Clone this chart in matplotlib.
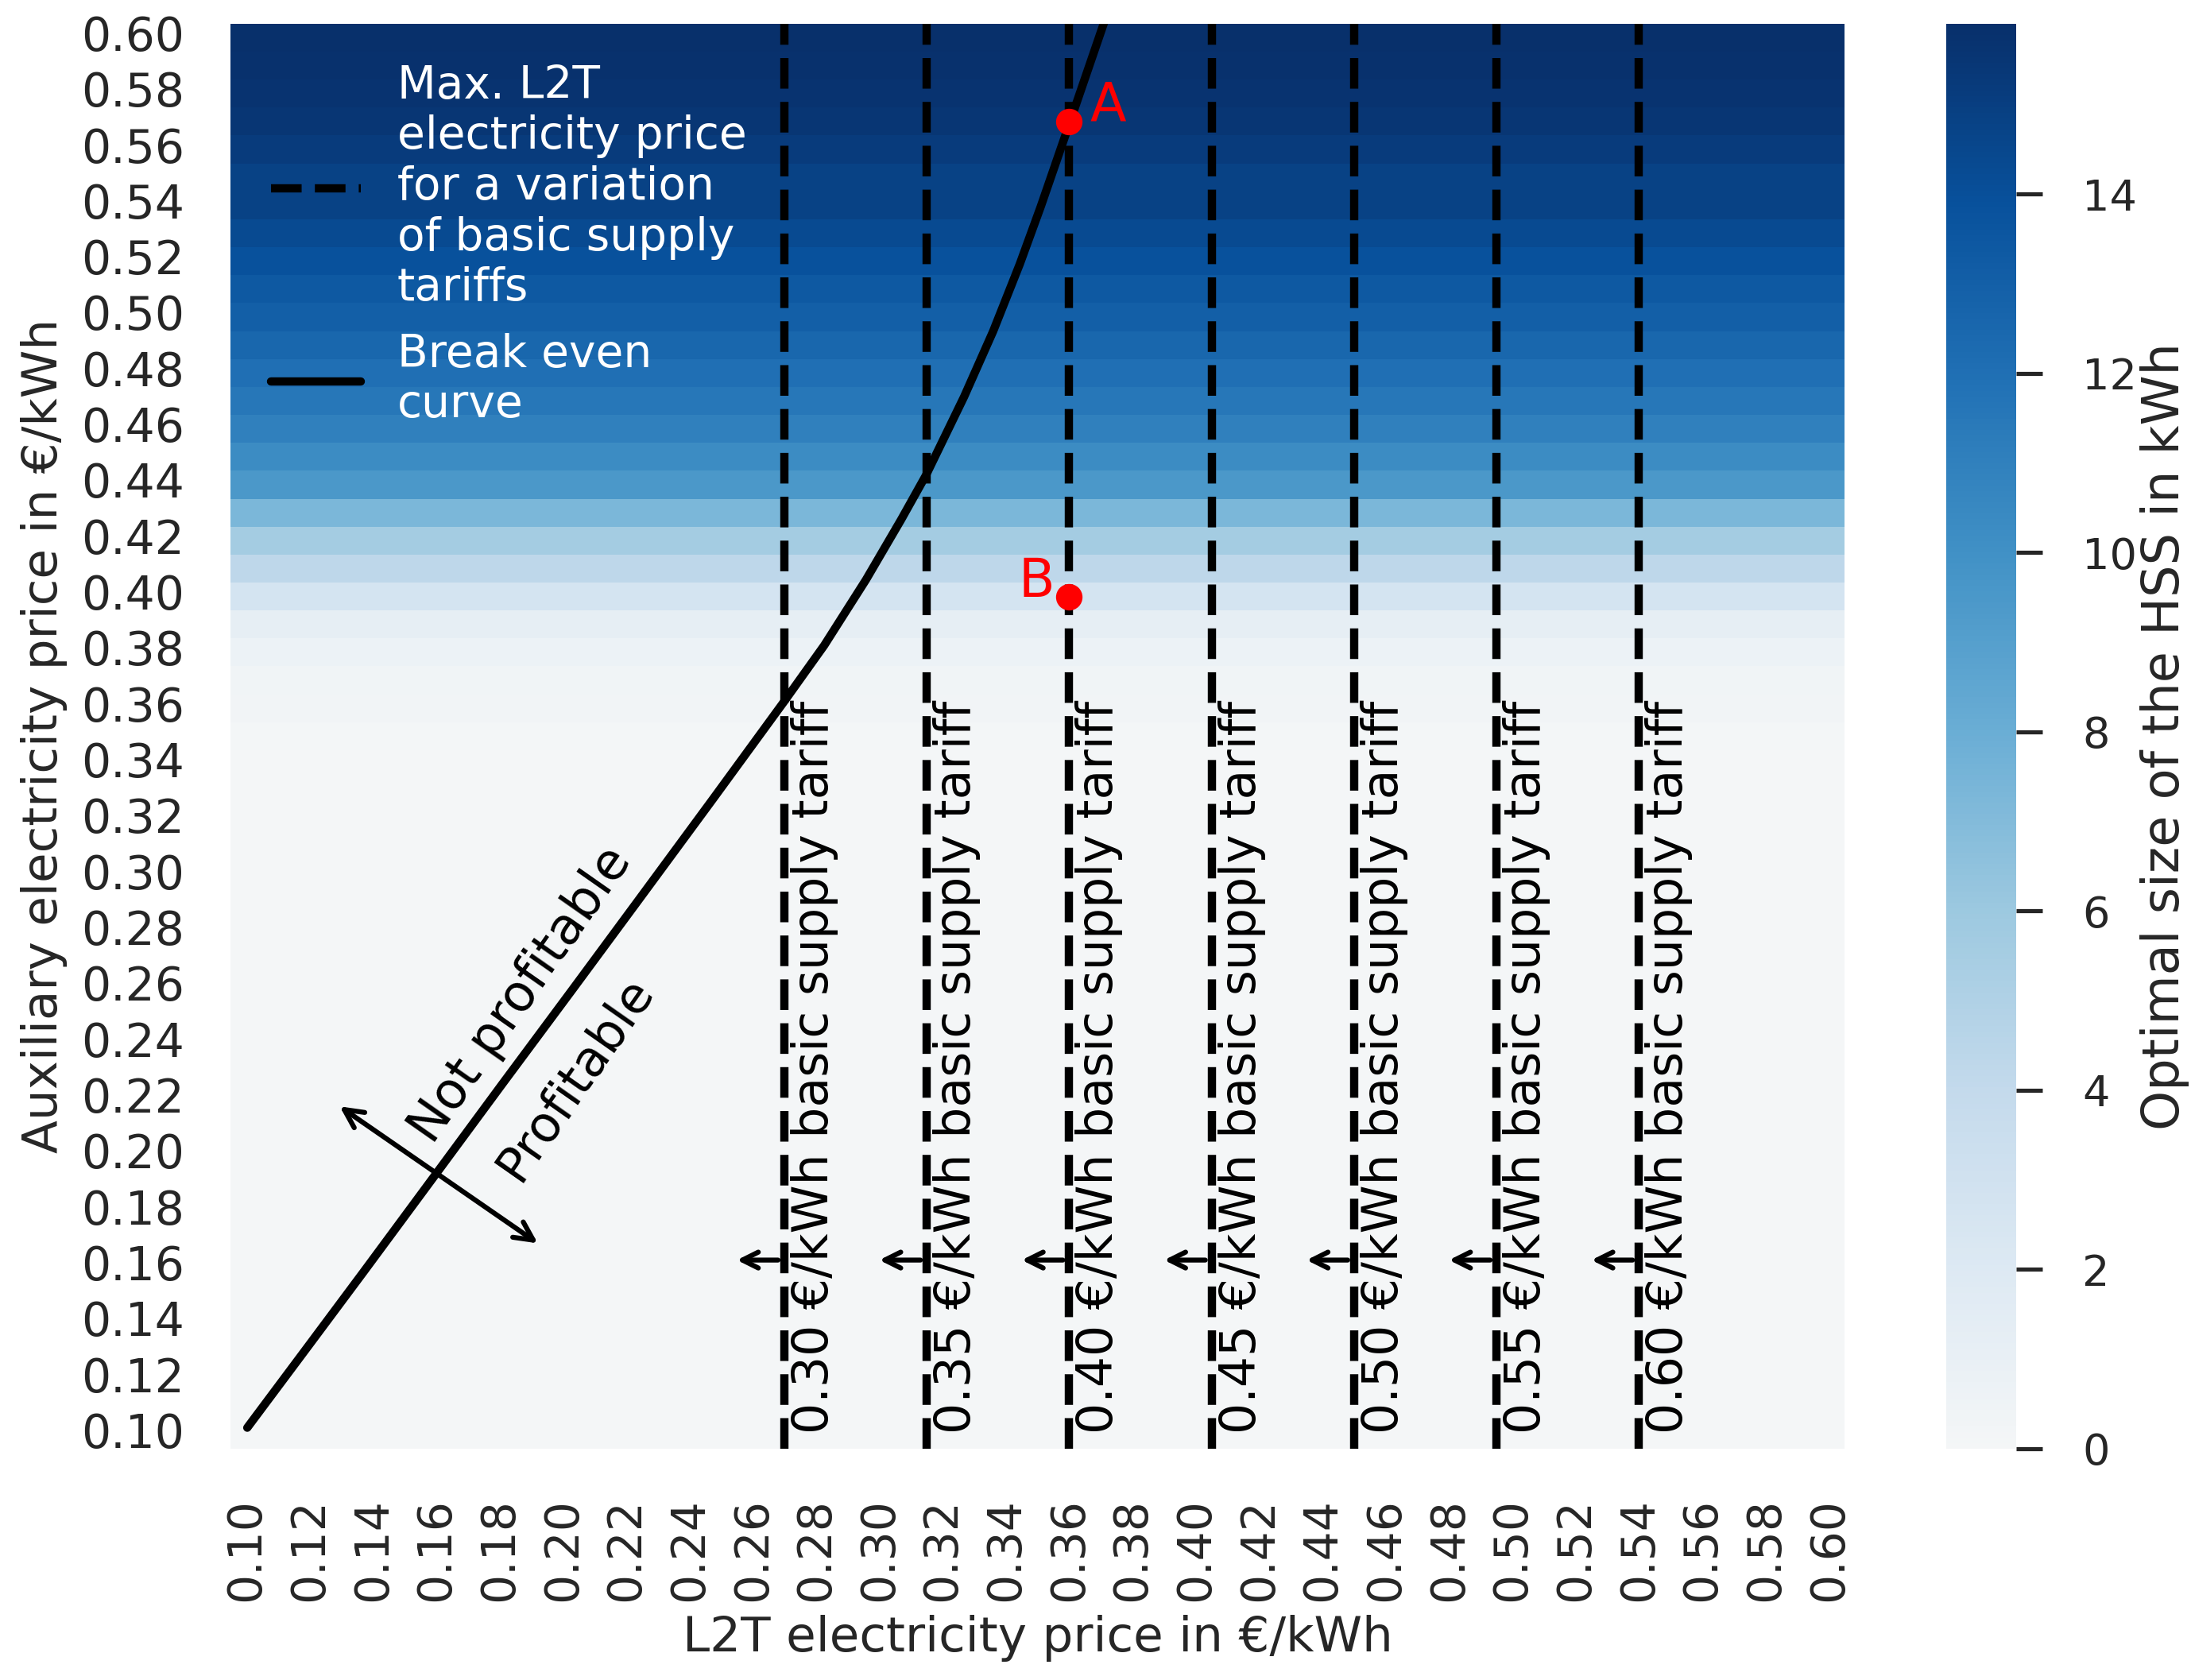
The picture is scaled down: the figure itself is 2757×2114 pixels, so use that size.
import numpy as np
import pandas as pd
import matplotlib
matplotlib.use('Agg')
import matplotlib.pyplot as plt
from matplotlib.colors import LinearSegmentedColormap
import seaborn as sns

sns.set_theme(style='white')
plt.rcParams['font.family'] = ['DejaVu Sans']

# prices on both axes (€/kWh)
l2t_price = np.round(np.arange(0.10, 0.605, 0.01), 2)
aux_price = np.round(np.arange(0.10, 0.605, 0.01), 2)

# optimal HSS size (kWh) per auxiliary price 0.10 ... 0.60
hss_size = [0.0] * 25 + [
    0.1, 0.25, 0.4, 0.7, 1.3, 2.7, 4.3, 5.6, 7.3, 9.5,
    10.3, 11.0, 11.5, 12.0, 12.5, 13.0, 13.4, 13.9, 14.3, 14.8,
    14.8, 15.2, 15.5, 15.7, 15.8, 15.9]

# basic supply tariffs and the resulting max. L2T price
tariffs = [0.30, 0.35, 0.40, 0.45, 0.50, 0.55, 0.60]
max_l2t = [0.27, 0.315, 0.36, 0.405, 0.45, 0.495, 0.54]

# break even curve
be_x = [0.1003, 0.1193, 0.1370, 0.1599, 0.1810, 0.2031, 0.2252, 0.2473, 0.2698, 0.2826,
        0.2958, 0.3069, 0.3148, 0.3268, 0.3360, 0.3444, 0.3510, 0.3603, 0.3709]
be_y = [0.1025, 0.1313, 0.1582, 0.1933, 0.2257, 0.2594, 0.2933, 0.3273, 0.3622, 0.3825,
        0.4060, 0.4275, 0.4435, 0.4715, 0.4950, 0.5190, 0.5395, 0.5700, 0.6050]

point_a = (0.36, 0.57)
point_b = (0.36, 0.40)


def col(x):
    return (np.asarray(x) - 0.10) / 0.01 + 0.5


def row(y):
    return (0.60 - np.asarray(y)) / 0.01 + 0.5


# Blues, slightly greyish at the light end
cmap = LinearSegmentedColormap.from_list('blues_grey', [
    (0.0, '#f4f6f7'), (0.125, '#dde9f3'), (0.25, '#c4daec'), (0.375, '#9dc9e0'),
    (0.5, '#6baed5'), (0.625, '#4292c6'), (0.75, '#2171b5'), (0.875, '#08519c'),
    (1.0, '#08306b')])

fig = plt.figure(figsize=(2757 / 300, 2114 / 300), dpi=300)
ax = fig.add_axes([0.1052, 0.1377, 0.7367, 0.8482])
cax = fig.add_axes([0.8883, 0.1377, 0.0319, 0.8482])

grid = np.tile(np.array(hss_size)[:, None], (1, len(l2t_price)))
df = pd.DataFrame(grid, index=[f'{v:.2f}' for v in aux_price],
                  columns=[f'{v:.2f}' for v in l2t_price]).iloc[::-1]

sns.heatmap(df, cmap=cmap, ax=ax, cbar_ax=cax, xticklabels=2, yticklabels=2)

cax.set_ylabel('Optimal size of the HSS in kWh', fontsize=15.3, color='.15', labelpad=1)
cax.tick_params(right=True, length=8, width=1.25, color='.15', labelsize=13, pad=12)

ax.tick_params(axis='x', length=0, labelsize=14, labelrotation=90, pad=15)
ax.tick_params(axis='y', length=0, labelsize=14, labelrotation=0, pad=14)
ax.set_xlabel('L2T electricity price in €/kWh', fontsize=14.7, color='.15')
ax.set_ylabel('Auxiliary electricity price in €/kWh', fontsize=14.7, color='.15')

# tariff lines
for i, (t, m) in enumerate(zip(tariffs, max_l2t)):
    ax.axvline(col(m), color='black', ls='--', lw=2.5,
               label='Max. L2T\nelectricity price\nfor a variation\nof basic supply\ntariffs' if i == 0 else None)
    ax.text(col(m) + 0.2, 50.45, f'{t:.2f} €/kWh basic supply tariff', rotation=90,
            ha='left', va='bottom', fontsize=14.8, color='black')
    ax.annotate('', xy=(col(m) - 1.5, row(0.1625)), xytext=(col(m) - 0.2, row(0.1625)),
                arrowprops=dict(arrowstyle='->', lw=1.5, color='black',
                                shrinkA=0, shrinkB=0, mutation_scale=12))

ax.plot(col(be_x), row(be_y), color='black', lw=2.5, label='Break even\ncurve')

# profitable / not profitable
ax.annotate('', xy=(col(0.1295), row(0.2175)), xytext=(col(0.1921), row(0.1685)),
            arrowprops=dict(arrowstyle='<->', lw=1.5, color='black',
                            shrinkA=0, shrinkB=0, mutation_scale=14))
ax.text(col(0.1868), row(0.2575), 'Not profitable', rotation=55, ha='center', va='center',
        fontsize=15.3, color='black')
ax.text(col(0.2040), row(0.2275), 'Profitable', rotation=55, ha='center', va='center',
        fontsize=15, color='black')

# points A and B
ax.plot(col(point_a[0]), row(point_a[1]), 'o', color='red', ms=7)
ax.plot(col(point_b[0]), row(point_b[1]), 'o', color='red', ms=7)
ax.text(col(point_a[0]) + 0.65, row(point_a[1]), 'A', color='red', fontsize=16,
        ha='left', va='baseline')
ax.text(col(point_b[0]) - 0.45, row(point_b[1]), 'B', color='red', fontsize=16,
        ha='right', va='baseline')

leg = ax.legend(loc='upper left', frameon=False, fontsize=13.6)
for txt in leg.get_texts():
    txt.set_color('white')

fig.savefig('out.png', dpi=300)
